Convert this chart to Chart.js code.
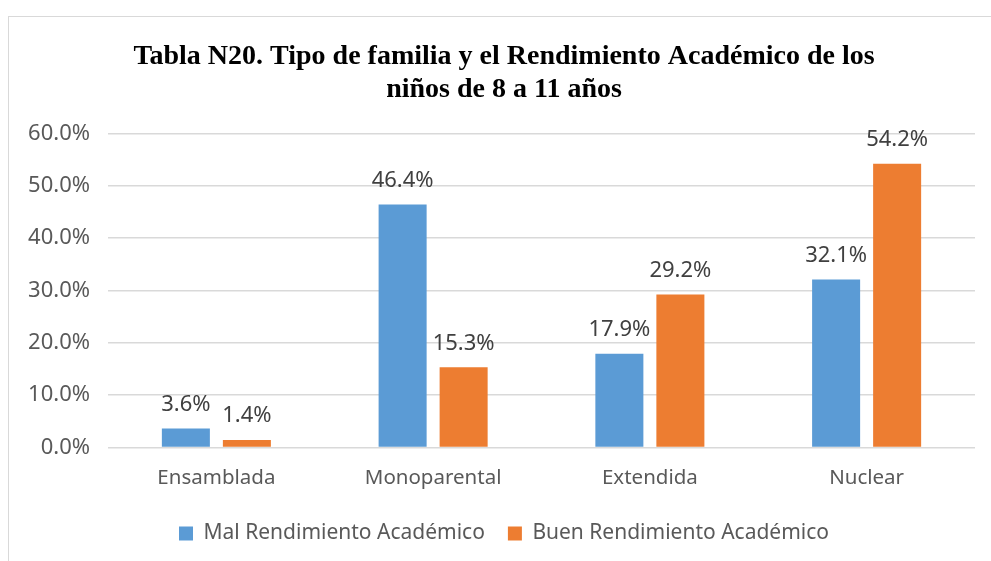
<!DOCTYPE html>
<html>
<head>
<meta charset="utf-8">
<script src="https://cdn.jsdelivr.net/npm/chart.js@4.4.1/dist/chart.umd.min.js"></script>
<style>
  html, body { margin: 0; padding: 0; background: #fff; overflow: hidden; }
  #frame {
    position: absolute; left: 8px; top: 16px;
    width: 990px; height: 560px;
    border: 1px solid #d9d9d9;
  }
  #frame canvas { display: block; }
</style>
</head>
<body>
<div id="frame"><canvas id="chart" width="990" height="560"></canvas></div>
<script>
// data
const categories = ["Ensamblada", "Monoparental", "Extendida", "Nuclear"];
const malRendimiento = [3.6, 46.4, 17.9, 32.1];
const buenRendimiento = [1.4, 15.3, 29.2, 54.2];
const seriesNames = ["Mal Rendimiento Académico", "Buen Rendimiento Académico"];
const titleLines = ["Tabla N20. Tipo de familia y el Rendimiento Académico de los", "niños de 8 a 11 años"];

const textFont = "'Noto Sans', 'Open Sans', sans-serif";
const textColor = "#595959";

// simple value labels above each bar
const barLabels = {
  id: "barLabels",
  afterDatasetsDraw(chart) {
    const ctx = chart.ctx;
    ctx.save();
    ctx.font = "22px " + textFont;
    ctx.fillStyle = "#404040";
    ctx.textAlign = "center";
    ctx.textBaseline = "middle";
    chart.data.datasets.forEach((ds, i) => {
      const meta = chart.getDatasetMeta(i);
      meta.data.forEach((bar, j) => {
        ctx.fillText(ds.data[j].toFixed(1) + "%", bar.x, bar.y - 24);
      });
    });
    ctx.restore();
  },
};

new Chart(document.getElementById("chart"), {
  type: "bar",
  data: {
    labels: categories,
    datasets: [
      { label: seriesNames[0], data: malRendimiento, backgroundColor: "#5b9bd5" },
      { label: seriesNames[1], data: buenRendimiento, backgroundColor: "#ed7d31" },
    ],
  },
  options: {
    responsive: false,
    animation: false,
    layout: { padding: { left: 0, right: 0, top: 8, bottom: 23 } },
    datasets: {
      bar: { categoryPercentage: 0.563, barPercentage: 0.787 },
    },
    plugins: {
      title: {
        display: true,
        text: titleLines,
        color: "#000",
        font: { family: "'Liberation Serif', 'Times New Roman', serif", size: 28, weight: "bold", lineHeight: 1.15 },
        padding: { top: 16, bottom: 28 },
      },
      legend: {
        position: "bottom",
        labels: {
          color: textColor,
          font: { family: textFont, size: 21 },
          boxWidth: 14,
          boxHeight: 14,
          padding: 23,
        },
      },
      tooltip: { enabled: false },
    },
    scales: {
      x: {
        grid: { display: false },
        border: { display: false },
        ticks: { color: textColor, font: { family: textFont, size: 20.5 }, padding: 10 },
      },
      y: {
        min: 0,
        max: 60,
        ticks: {
          stepSize: 10,
          color: textColor,
          font: { family: textFont, size: 22 },
          padding: 18,
          callback: (v) => v.toFixed(1) + "%",
        },
        grid: { color: "#d9d9d9", lineWidth: 1.5, drawTicks: false },
        border: { display: false },
        afterFit(scale) { scale.width = 99; },
      },
      // empty right axis, only reserves the right margin of the plot
      yRight: {
        position: "right",
        min: 0,
        max: 60,
        ticks: { display: false },
        grid: { display: false },
        border: { display: false },
        afterFit(scale) { scale.width = 24; },
      },
    },
  },
  plugins: [barLabels],
});
</script>
</body>
</html>
